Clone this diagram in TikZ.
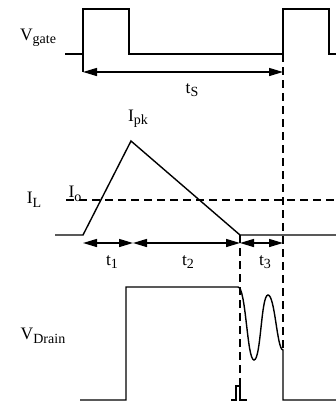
\documentclass[tikz,border=0pt]{standalone}
\usepackage{fontspec}
\setmainfont{Liberation Serif}
\usetikzlibrary{arrows.meta}
\newcommand\lo[1]{\raisebox{-3.5pt}{\fontsize{14}{16}\selectfont#1}}
\begin{document}
\begin{tikzpicture}[x=1pt,y=-1pt,line width=1.4pt,
  wave/.style={black,line join=miter},
  guide/.style={black,dash pattern=on 8pt off 5pt},
  span/.style={{Triangle[length=14pt,width=8pt]}-{Triangle[length=14pt,width=8pt]}},
  lbl/.style={font=\fontsize{17.5}{19}\selectfont,inner sep=0pt}]
\useasboundingbox (0,0) rectangle (336,402);
\def\yH{9};
\def\yL{54};
\def\xA{83};
\def\xB{133};
\def\xC{240};
\def\xD{283};
% gate
\draw[wave] (65,\yL)--(\xA,\yL)--(\xA,\yH)--(129,\yH)--(129,\yL)--(\xD,\yL)--(\xD,\yH)--(329,\yH)--(329,\yL)--(336,\yL);
\coordinate (sA) at (\xA,72);
\coordinate (sD) at (\xD,72);
\draw (\xA,\yL)--(sA);
\draw[span] (sA)--(sD);
\node[lbl] (ts) at (192,90) {t\lo{S}};
\node[lbl] (vgate) at (38,38) {V\lo{gate}};
% inductor current
\draw[wave] (55,235)--(\xA,235)--(131,141)--(\xC,235)--(336,235);
\draw[guide] (66,200)--(336,200);
\node[lbl] (ipk) at (138,119) {I\lo{pk}};
\node[lbl] (io) at (75,194) {I\lo{o}};
\node[lbl] (il) at (34,200) {I\lo{L}};
\coordinate (pA) at (\xA,243);
\coordinate (pB) at (\xB,243);
\coordinate (pC) at (\xC,243);
\coordinate (pD) at (\xD,243);
\draw[span] (pA)--(pB);
\draw[span] (pB)--(pC);
\draw[span] (pC)--(pD);
\node[lbl] (t1) at (112,262) {t\lo{1}};
\node[lbl] (t2) at (188,262) {t\lo{2}};
\node[lbl] (t3) at (265,262) {t\lo{3}};
% guides
\draw[guide] (\xD,\yL)--(\xD,350);
\draw[guide] (\xC,235)--(\xC,400);
% drain
\draw[wave] (80,400)--(126,400)--(126,287)--(238,287)
  .. controls (246,287) and (247,360) .. (254,360)
  .. controls (261,360) and (261,295) .. (268,295)
  .. controls (275,295) and (277,350) .. (\xD,350)--(\xD,400)--(336,400);
\draw[wave] (231,400)--(236,400)--(236,386)--(\xC,386)--(\xC,400)--(247,400);
\node[lbl] (vd) at (43,336) {V\lo{Drain}};
\end{tikzpicture}
\end{document}
